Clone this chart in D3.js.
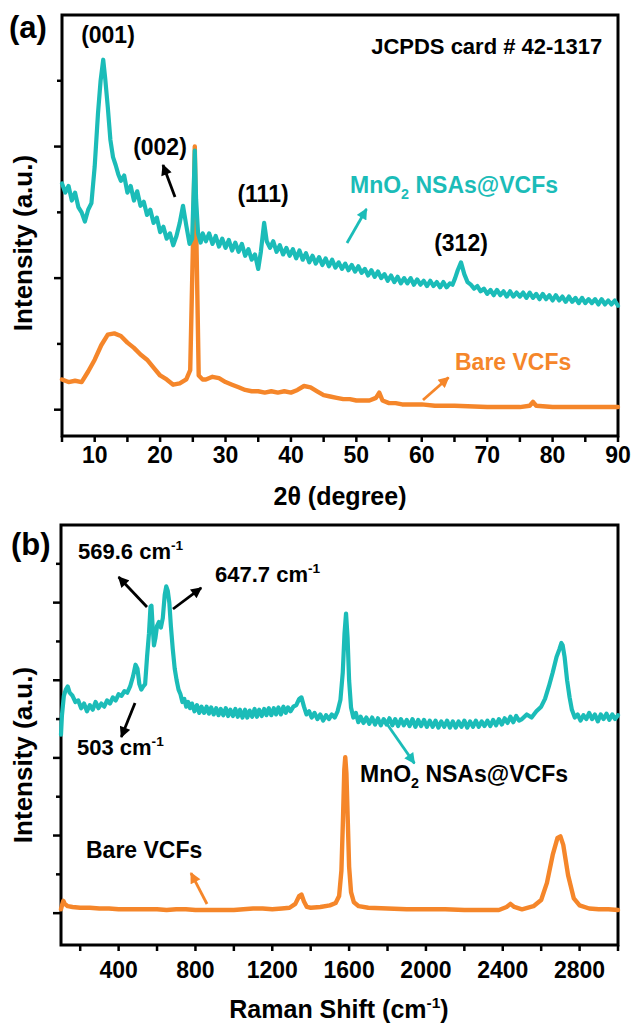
<!DOCTYPE html>
<html><head><meta charset="utf-8">
<script src="https://cdn.jsdelivr.net/npm/d3@7/dist/d3.min.js"></script>
<style>
body{margin:0;background:#fff}
text{font-family:Arial,"Liberation Sans",sans-serif;font-weight:bold}
</style>
</head><body>
<svg id="c" width="635" height="1025"></svg>
<script>
// ---------- DATA ----------
// (a) XRD: 2theta (degree) and intensity (a.u.)
const xrdMnO2Theta = [5,5.5,6,6.5,7,7.5,8,8.5,9,9.5,10,10.5,10.9,11.3,11.6,12,12.4,12.8,13.2,13.6,14,14.5,15,15.5,16,16.5,17,17.5,18,18.5,19,19.5,20,20.5,21,21.5,22,22.5,23,23.5,24,24.5,24.9,25.15,25.3,25.5,25.8,26.2,26.5,27,27.5,28,28.5,29,29.5,30,30.5,31,31.5,32,32.5,33,33.5,34,34.5,35,35.4,35.9,36.3,36.8,37.3,37.8,38.3,38.8,39.3,39.8,40.3,40.8,41.3,41.8,42.3,42.8,43.3,43.8,44.3,44.8,45.3,45.8,46.3,46.8,47.3,47.8,48.3,48.8,49.3,49.8,50.3,50.8,51.3,51.8,52.3,52.8,53.3,53.8,54.3,54.8,55.3,55.8,56.3,56.8,57.3,57.8,58.3,58.8,59.3,59.8,60.3,60.8,61.3,61.8,62.3,62.8,63.3,63.8,64.3,64.7,65.1,65.5,66,66.5,67,67.5,68,68.5,69,69.5,70,70.5,71,71.5,72,72.5,73,73.5,74,74.5,75,75.5,76,76.5,77,77.5,78,78.5,79,79.5,80,80.5,81,81.5,82,82.5,83,83.5,84,84.5,85,85.5,86,86.5,87,87.5,88,88.5,89,89.5,90];
const xrdMnO2 = [1.72,1.65,1.70,1.59,1.65,1.54,1.50,1.43,1.52,1.57,1.85,2.25,2.50,2.66,2.52,2.30,2.05,1.92,1.86,1.79,1.74,1.78,1.65,1.70,1.59,1.66,1.55,1.58,1.48,1.52,1.42,1.46,1.35,1.39,1.30,1.34,1.25,1.32,1.42,1.55,1.40,1.26,1.30,1.70,1.97,1.60,1.34,1.27,1.34,1.28,1.34,1.26,1.32,1.24,1.30,1.23,1.29,1.21,1.27,1.20,1.26,1.17,1.22,1.14,1.18,1.07,1.20,1.42,1.28,1.23,1.28,1.20,1.25,1.18,1.23,1.17,1.22,1.15,1.21,1.14,1.19,1.12,1.17,1.11,1.16,1.10,1.15,1.09,1.14,1.08,1.12,1.07,1.11,1.06,1.10,1.05,1.09,1.04,1.07,1.02,1.06,1.01,1.05,1.00,1.03,0.98,1.02,0.97,1.01,0.96,1.00,0.96,1.00,0.95,0.99,0.95,0.98,0.94,0.98,0.94,0.97,0.93,0.97,0.93,0.96,0.95,1.00,1.06,1.12,1.03,0.97,0.95,0.92,0.94,0.90,0.92,0.88,0.91,0.87,0.91,0.87,0.90,0.86,0.90,0.86,0.89,0.86,0.89,0.85,0.89,0.85,0.88,0.84,0.88,0.84,0.87,0.83,0.87,0.83,0.86,0.82,0.86,0.82,0.85,0.81,0.85,0.81,0.84,0.81,0.84,0.80,0.84,0.80,0.83,0.80,0.83,0.79,0.82,0.80,0.83,0.81];
const xrdBareTheta = [5,6,7,8,9,10,11,12,13,14,15,16,17,18,19,20,21,22,23,24,24.6,25.0,25.3,25.6,25.9,26.5,27,28,29,30,31,32,33,34,35,36,37,38,39,40,41,42,43,44,45,46,47,48,49,50,51,52,53,53.5,54,55,56,57,58,60,62,65,70,75,76.5,77,77.5,80,85,90];
const xrdBare = [0.23,0.21,0.22,0.21,0.29,0.38,0.49,0.57,0.58,0.56,0.51,0.47,0.42,0.38,0.32,0.26,0.23,0.19,0.20,0.23,0.30,1.21,2.00,1.14,0.26,0.23,0.23,0.25,0.24,0.21,0.19,0.17,0.15,0.14,0.14,0.13,0.14,0.13,0.14,0.13,0.15,0.18,0.17,0.14,0.11,0.10,0.09,0.08,0.08,0.07,0.07,0.07,0.09,0.13,0.07,0.05,0.05,0.04,0.04,0.04,0.03,0.03,0.02,0.02,0.03,0.06,0.03,0.02,0.02,0.02];
const xrdTicks = [10,20,30,40,50,60,70,80,90];

// (b) Raman: shift (cm-1) and intensity (a.u.)
const ramanMnO2Shift = [100,105,115,125,135,145,160,175,190,205,220,235,250,265,280,295,310,325,340,355,370,385,400,415,430,445,460,475,488,498,508,518,528,538,548,558,566,571,577,584,592,600,610,620,630,640,648,656,664,672,682,692,702,712,722,732,742,752,762,772,782,795,808,820,832,845,858,870,882,895,908,920,932,945,958,970,982,995,1008,1020,1032,1045,1058,1070,1082,1095,1108,1120,1132,1145,1158,1170,1182,1195,1208,1220,1232,1245,1258,1270,1282,1295,1310,1325,1340,1352,1365,1378,1392,1405,1420,1435,1450,1465,1480,1495,1510,1525,1540,1555,1567,1576,1584,1592,1600,1610,1622,1635,1648,1660,1675,1690,1705,1720,1735,1750,1765,1780,1795,1810,1825,1840,1855,1870,1885,1900,1915,1930,1945,1960,1975,1990,2005,2020,2035,2050,2065,2080,2095,2110,2125,2140,2155,2170,2185,2200,2215,2230,2245,2260,2275,2290,2305,2320,2335,2350,2365,2380,2395,2410,2425,2440,2455,2470,2485,2500,2525,2550,2575,2600,2620,2640,2660,2680,2695,2705,2712,2722,2735,2748,2760,2775,2790,2805,2820,2835,2850,2865,2880,2895,2910,2925,2940,2955,2970,2985,3000];
const ramanMnO2 = [2.30,2.55,2.80,2.88,2.92,2.84,2.80,2.72,2.74,2.64,2.70,2.60,2.68,2.62,2.72,2.64,2.70,2.66,2.74,2.70,2.78,2.74,2.82,2.80,2.86,2.84,2.92,3.05,3.20,3.15,2.95,2.88,2.92,2.95,3.30,3.60,3.95,3.96,3.70,3.45,3.55,3.70,3.75,3.68,3.80,4.10,4.21,4.15,4.00,3.70,3.40,3.15,3.00,2.88,2.82,2.72,2.76,2.66,2.72,2.64,2.70,2.60,2.68,2.58,2.66,2.58,2.66,2.57,2.65,2.56,2.64,2.55,2.63,2.55,2.64,2.54,2.62,2.54,2.63,2.53,2.62,2.52,2.62,2.52,2.61,2.53,2.63,2.53,2.62,2.54,2.63,2.55,2.64,2.55,2.64,2.56,2.65,2.56,2.66,2.58,2.65,2.60,2.66,2.68,2.76,2.78,2.66,2.56,2.60,2.52,2.58,2.50,2.56,2.48,2.55,2.50,2.56,2.52,2.60,2.75,3.10,3.60,3.86,3.55,3.00,2.65,2.52,2.58,2.46,2.53,2.45,2.52,2.44,2.52,2.43,2.51,2.42,2.50,2.43,2.51,2.42,2.50,2.41,2.50,2.42,2.49,2.41,2.50,2.40,2.49,2.41,2.49,2.40,2.48,2.40,2.48,2.39,2.47,2.40,2.48,2.39,2.47,2.39,2.47,2.40,2.48,2.39,2.47,2.40,2.48,2.40,2.47,2.41,2.48,2.41,2.49,2.42,2.50,2.43,2.51,2.45,2.53,2.46,2.54,2.48,2.50,2.56,2.52,2.60,2.66,2.76,2.92,3.10,3.30,3.40,3.48,3.45,3.30,3.00,2.78,2.62,2.52,2.56,2.48,2.55,2.50,2.58,2.50,2.56,2.47,2.56,2.50,2.57,2.49,2.56,2.50,2.55];
const ramanBareShift = [100,105,112,120,135,160,200,250,300,350,400,450,500,550,600,650,700,750,800,850,900,950,1000,1050,1100,1150,1200,1250,1290,1320,1340,1352,1365,1380,1400,1450,1500,1530,1548,1560,1568,1575,1580,1586,1593,1600,1610,1625,1650,1700,1800,1900,2000,2100,2200,2300,2380,2420,2440,2460,2500,2560,2600,2630,2660,2685,2700,2715,2740,2770,2800,2850,2900,2950,3000];
const ramanBare = [0.05,0.10,0.16,0.12,0.09,0.08,0.07,0.07,0.06,0.06,0.05,0.05,0.05,0.05,0.05,0.04,0.05,0.05,0.04,0.04,0.04,0.04,0.04,0.05,0.06,0.06,0.05,0.06,0.07,0.12,0.22,0.24,0.15,0.08,0.07,0.08,0.10,0.13,0.22,0.55,1.20,1.85,2.01,1.80,1.20,0.60,0.27,0.14,0.09,0.07,0.06,0.05,0.05,0.05,0.04,0.04,0.04,0.08,0.12,0.08,0.05,0.09,0.17,0.39,0.75,0.97,0.99,0.88,0.49,0.19,0.10,0.06,0.05,0.05,0.04];
const ramanTicks = [400,800,1200,1600,2000,2400,2800];

// ---------- STYLE ----------
const CYAN = "#1BBCB8", ORANGE = "#F5862A", BLACK = "#000";
const svg = d3.select("#c");
const defs = svg.append("defs");
[["ahBlack",BLACK],["ahCyan",CYAN],["ahOrange",ORANGE]].forEach(([id,c])=>{
  defs.append("marker").attr("id",id).attr("viewBox","0 0 10 10").attr("refX",9).attr("refY",5)
    .attr("markerWidth",12).attr("markerHeight",11).attr("markerUnits","userSpaceOnUse").attr("orient","auto")
    .append("path").attr("d","M0,0L10,5L0,10Z").attr("fill",c);
});

function frame(g, x, y, xTickVals, yMajor, yMinor){
  const [x0,x1] = x.range(), [y0,y1] = y.range();
  yMajor.forEach(v=>g.append("line").attr("x1",x0-8).attr("x2",x0).attr("y1",y(v)).attr("y2",y(v)).attr("stroke",BLACK).attr("stroke-width",2.5));
  yMinor.forEach(v=>g.append("line").attr("x1",x0-5).attr("x2",x0).attr("y1",y(v)).attr("y2",y(v)).attr("stroke",BLACK).attr("stroke-width",2.5));
  xTickVals.forEach(v=>g.append("line").attr("x1",x(v)).attr("x2",x(v)).attr("y1",y0).attr("y2",y0+6).attr("stroke",BLACK).attr("stroke-width",2.5));
  g.append("rect").attr("x",x0).attr("y",y1).attr("width",x1-x0).attr("height",y0-y1)
    .attr("fill","none").attr("stroke",BLACK).attr("stroke-width",3);
}
function series(g, x, y, xs, ys, color, w){
  const line = d3.line().x(d=>x(d[0])).y(d=>y(d[1]));
  g.append("path").datum(d3.zip(xs,ys)).attr("d",line).attr("fill","none")
    .attr("stroke",color).attr("stroke-width",w).attr("stroke-linejoin","round").attr("stroke-linecap","round");
}
function arrow(g, x, y, a, b, color, id){
  g.append("line").attr("x1",x(a[0])).attr("y1",y(a[1])).attr("x2",x(b[0])).attr("y2",y(b[1]))
    .attr("stroke",color).attr("stroke-width",2.8).attr("marker-end",`url(#${id})`);
}
function label(g, px, py, parts, color, anchor, size){
  const t = g.append("text").attr("x",px).attr("y",py).attr("fill",color).attr("font-size",size)
    .attr("text-anchor",anchor||"start");
  let pending = 0;
  parts.forEach(p=>{
    if (typeof p === "string") { t.append("tspan").attr("dy",pending).attr("font-size",size).text(p); pending = 0; }
    else if (p.sup) { t.append("tspan").attr("font-size",size*0.62).attr("dy",-size*0.42).text(p.sup); pending = size*0.42; }
    else if (p.sub) { t.append("tspan").attr("font-size",size*0.62).attr("dy",size*0.28).text(p.sub); pending = -size*0.28; }
  });
  return t;
}
// ---------- PANEL (a) ----------
const ga = svg.append("g");
const xa = d3.scaleLinear().domain([5,90]).range([62,618]);
const ya = d3.scaleLinear().domain([-0.2,3]).range([436,15]);
frame(ga, xa, ya, d3.range(5,91,5), [0,1,2], [0.5,1.5,2.5]);
series(ga, xa, ya, xrdBareTheta, xrdBare, ORANGE, 4.4);
series(ga, xa, ya, xrdMnO2Theta, xrdMnO2, CYAN, 4.2);
xrdTicks.forEach(v=>ga.append("text").attr("x",xa(v)).attr("y",463).attr("text-anchor","middle").attr("font-size",23).text(v));
ga.append("text").attr("x",340).attr("y",505).attr("text-anchor","middle").attr("font-size",25)
  .text("2\u03B8 (degree)");
ga.append("text").attr("transform","translate(32,243) rotate(-90)").attr("text-anchor","middle").attr("font-size",26).text("Intensity (a.u.)");
ga.append("text").attr("x",9).attr("y",38).attr("font-size",31).text("(a)");
label(ga, xa(12.03), ya(2.787), ["(001)"], BLACK, "middle", 23);
label(ga, xa(87.6), ya(2.704), ["JCPDS card # 42-1317"], BLACK, "end", 22);
label(ga, xa(19.98), ya(1.936), ["(002)"], BLACK, "middle", 23);
label(ga, xa(35.73), ya(1.579), ["(111)"], BLACK, "middle", 23);
label(ga, xa(66.0), ya(1.206), ["(312)"], BLACK, "middle", 23);
label(ga, xa(49.03), ya(1.647), ["MnO", {sub:"2"}, " NSAs@VCFs"], CYAN, "start", 23);
label(ga, xa(65.08), ya(0.302), ["Bare VCFs"], ORANGE, "start", 23);
arrow(ga, xa, ya, [22.28,1.617], [20.44,1.86], BLACK, "ahBlack");
arrow(ga, xa, ya, [48.57,1.267], [51.55,1.525], CYAN, "ahCyan");
arrow(ga, xa, ya, [60.19,0.074], [64.1,0.245], ORANGE, "ahOrange");

// ---------- PANEL (b) ----------
const gb = svg.append("g");
const xb = d3.scaleLinear().domain([100,3000]).range([61,618]);
const yb = d3.scaleLinear().domain([-0.41,5]).range([945,525]);
frame(gb, xb, yb, d3.range(200,3001,200), [0,1,2,3,4], [0.5,1.5,2.5,3.5,4.5]);
series(gb, xb, yb, ramanBareShift, ramanBare, ORANGE, 4.4);
series(gb, xb, yb, ramanMnO2Shift, ramanMnO2, CYAN, 4.2);
ramanTicks.forEach(v=>gb.append("text").attr("x",xb(v)).attr("y",978).attr("text-anchor","middle").attr("font-size",23).text(v));
label(gb, 339, 1018, ["Raman Shift (cm", {sup:"-1"}, ")"], BLACK, "middle", 25);
gb.append("text").attr("transform","translate(32,755) rotate(-90)").attr("text-anchor","middle").attr("font-size",26).text("Intensity (a.u.)");
gb.append("text").attr("x",11).attr("y",555).attr("font-size",31).text("(b)");
label(gb, xb(188.5), yb(4.562), ["569.6 cm", {sup:"-1"}], BLACK, "start", 22);
label(gb, xb(901.8), yb(4.266), ["647.7 cm", {sup:"-1"}], BLACK, "start", 22);
label(gb, xb(183.3), yb(2.037), ["503 cm", {sup:"-1"}], BLACK, "start", 22);
label(gb, xb(1656.7), yb(1.690), ["MnO", {sub:"2"}, " NSAs@VCFs"], BLACK, "start", 23);
label(gb, xb(230.2), yb(0.711), ["Bare VCFs"], BLACK, "start", 23);
arrow(gb, xb, yb, [547.8,3.944], [400,4.33], BLACK, "ahBlack");
arrow(gb, xb, yb, [683.1,3.918], [830,4.19], BLACK, "ahBlack");
arrow(gb, xb, yb, [485.3,2.707], [414,2.27], BLACK, "ahBlack");
arrow(gb, xb, yb, [1797.3,2.437], [1940,1.93], CYAN, "ahCyan");
arrow(gb, xb, yb, [860.1,0.118], [776.8,0.517], ORANGE, "ahOrange");
</script>
</body></html>
